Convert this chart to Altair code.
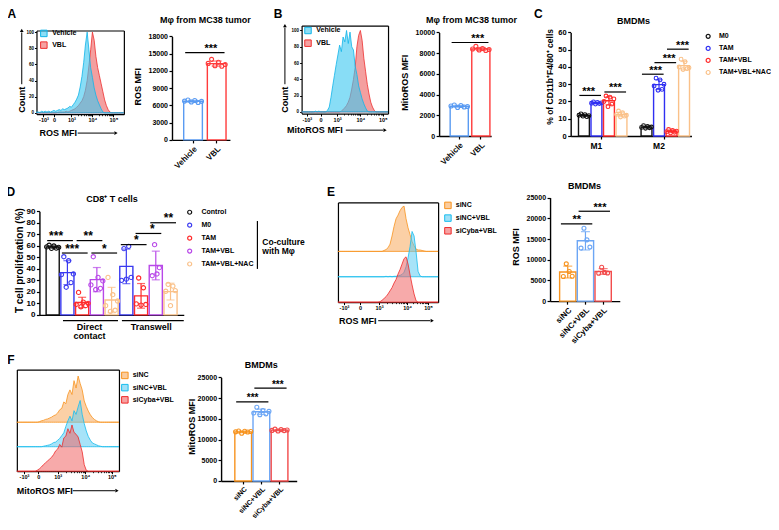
import math
import altair as alt
import pandas as pd

W, H = 763, 514


def TX(x):
    return round((x - 1) * W / 777, 2)


def TY(y):
    return round((y - 2) * H / 526, 2)


FONT = "Liberation Sans"
K = "#000000"

# ============================ data ============================
HIST_X = list(range(0, 101, 2))
HIST_TICK_TEXT = ["-10³", "0", "10³", "10⁴", "10⁵"]

A_HIST_VEHICLE = [1, 1, 0.5, 2, 1, 2, 1, 2, 1, 2,
                  3, 2, 3, 4, 3, 5, 4, 5, 6, 8,
                  7, 10, 13, 17, 22, 32, 45, 62, 84, 100,
                  78, 56, 44, 31, 22, 15, 10, 5, 1, 0,
                  0, 0, 0, 0, 0, 0, 0, 0, 0, 0, 0]
A_HIST_VBL = [0, 0, 0, 0, 0, 0, 0, 0, 0, 0,
              0, 0, 0.5, 1, 1, 1, 1, 2, 1, 2,
              3, 4, 5, 7, 9, 12, 15, 20, 28, 40,
              58, 78, 100, 90, 70, 56, 46, 36, 26, 16,
              9, 4, 1, 0, 0, 0, 0, 0, 0, 0, 0]
B_HIST_VEHICLE = [0, 0, 0, 0, 0, 0, 0, 0, 1, 0,
                  1, 0, 0, 0, 0, 2, 6, 18, 32, 45,
                  58, 70, 82, 74, 92, 86, 100, 84, 98, 80,
                  76, 56, 46, 32, 24, 16, 10, 5, 1, 0,
                  0, 0, 0, 0, 0, 0, 0, 0, 0, 0, 0]
B_HIST_VBL = [0, 0, 0, 0, 0, 0, 0, 0, 0, 0,
              0, 0, 0, 0, 0, 0, 0, 0, 0, 0,
              0, 0, 0, 1, 3, 5, 8, 12, 18, 28,
              40, 55, 80, 94, 100, 88, 66, 50, 34, 22,
              12, 6, 2, 0, 0, 0, 0, 0, 0, 0, 0]
E_HIST_SINC = [0, 0, 0, 0, 0, 0, 0, 0, 0, 0,
               0, 0, 0, 0, 0, 0, 0, 0, 0, 0,
               0, 0, 0, 2, 4, 8, 16, 34, 55, 72,
               80, 90, 97, 100, 72, 52, 37, 22, 12, 5,
               3, 3, 2, 1, 0, 0, 0, 0, 0, 0, 0]
E_HIST_SINC_VBL = [0, 0, 0, 0, 0, 0, 0, 0, 0, 0,
                   0, 0, 0, 0, 0, 0, 0, 0, 0, 0,
                   0, 0, 0, 0, 1, 0, 1, 0, 1, 1,
                   2, 3, 5, 10, 22, 42, 67, 100, 90, 55,
                   12, 2, 0, 0, 0, 0, 0, 0, 0, 0, 0]
E_HIST_SICYBA_VBL = [0, 0, 0, 0, 0, 0, 0, 0, 0, 0,
                     0, 0, 0, 0, 0, 0, 0, 0, 0, 0,
                     0, 1, 4, 8, 12, 18, 25, 32, 42, 50,
                     62, 72, 84, 96, 100, 84, 60, 38, 18, 3,
                     0, 0, 0, 0, 0, 0, 0, 0, 0, 0, 0]
F_HIST_SINC = [0, 0, 0, 0, 0, 0, 0, 0, 0, 0,
               0, 1, 3, 4, 6, 7, 9, 11, 14, 16,
               20, 27, 30, 44, 40, 60, 70, 60, 90, 74,
               100, 84, 70, 46, 34, 24, 16, 10, 6, 3,
               1, 0, 0, 0, 0, 0, 0, 0, 0, 0, 0]
F_HIST_SINC_VBL = [0, 0, 0, 0, 0, 0, 0, 0, 0, 0,
                   0, 0, 0, 1, 2, 3, 4, 6, 9, 10,
                   14, 18, 24, 30, 44, 56, 66, 56, 78, 70,
                   86, 100, 70, 50, 34, 22, 14, 8, 6, 4,
                   2, 1, 0, 0, 0, 0, 0, 0, 0, 0, 0]
F_HIST_SICYBA_VBL = [0, 0, 0, 0, 0, 0, 0, 0, 0, 0,
                     2, 5, 9, 14, 18, 22, 26, 30, 36, 44,
                     48, 58, 52, 72, 76, 92, 82, 100, 84, 80,
                     74, 58, 42, 14, 2, 0, 0, 0, 0, 0,
                     0, 0, 0, 0, 0, 0, 0, 0, 0, 0, 0]

AB_GROUPS = ["Vehicle", "VBL"]
A_ROS_VEHICLE = [6750, 6950, 6600, 6850, 6500, 6700]
A_ROS_VBL = [13300, 14000, 12900, 13500, 12800, 13100]
B_MITO_VEHICLE = [2900, 3000, 2750, 2950, 2800, 2850]
B_MITO_VBL = [8400, 8650, 8300, 8450, 8250, 8350]

C_TREATMENTS = ["M0", "TAM", "TAM+VBL", "TAM+VBL+NAC"]
C_M1_M0 = [12.0, 12.8, 11.5, 12.4, 11.2, 11.8]
C_M1_TAM = [19.0, 19.8, 18.5, 19.5, 18.8, 19.2]
C_M1_TAMVBL = [20.0, 23.2, 17.0, 22.5, 18.5, 21.5]
C_M1_NAC = [12.5, 14.5, 11.0, 13.5, 11.5, 12.0]
C_M2_M0 = [5.0, 6.0, 4.5, 5.5, 4.8, 5.2]
C_M2_TAM = [29.0, 33.5, 26.5, 32.5, 27.0, 30.0]
C_M2_TAMVBL = [2.5, 3.8, 1.8, 3.2, 2.2, 2.8]
C_M2_NAC = [40.0, 44.5, 38.5, 43.0, 39.0, 39.5]

D_GROUPS = ["Control", "M0", "TAM", "TAM+VBL", "TAM+VBL+NAC"]
D_CONTROL = [59.0, 60.5, 57.8, 59.8, 58.0, 58.6]
D_DIRECT_M0 = [35.0, 50.5, 24.0, 47.0, 28.0, 35.5]
D_DIRECT_TAM = [9.0, 19.5, 7.0, 11.0, 8.0, 10.0]
D_DIRECT_TAMVBL = [26.0, 50.5, 22.0, 32.5, 23.0, 29.5]
D_DIRECT_NAC = [8.0, 32.5, 3.0, 17.5, 4.0, 12.0]
D_TRANS_M0 = [30.0, 57.5, 31.0, 59.5, 32.5]
D_TRANS_TAM = [9.5, 32.0, 8.5, 23.5, 9.0]
D_TRANS_TAMVBL = [34.0, 61.0, 35.5, 41.0]
D_TRANS_NAC = [20.5, 26.5, 8.0, 25.0, 21.0]

EF_GROUPS = ["siNC", "siNC+VBL", "siCyba+VBL"]
E_ROS_SINC = [5950, 9000, 7150, 6000]
E_ROS_SINC_VBL = [12800, 17600, 14800, 13050]
E_ROS_SICYBA_VBL = [6750, 8200, 6950, 6800]
F_MITO_SINC = [11850, 12050, 11500, 12000, 11800, 11950]
F_MITO_SINC_VBL = [16400, 17800, 16000, 17000, 16200, 16800]
F_MITO_SICYBA_VBL = [12200, 12500, 12050, 12400, 12150, 12300]

# significance brackets: (left bar, right bar, height, label)
A_SIG = [("Vehicle", "VBL", 15160, "***")]
B_SIG = [("Vehicle", "VBL", 9030, "***")]
C_SIG = [("M1|M0", "M1|TAM", 23.5, "***"), ("M1|TAM+VBL", "M1|TAM+VBL+NAC", 25.5, "***"),
         ("M2|M0", "M2|TAM", 35.8, "***"), ("M2|TAM", "M2|TAM+VBL", 42.5, "***"),
         ("M2|TAM+VBL", "M2|TAM+VBL+NAC", 50.3, "***")]
D_SIG = [("Control", "D|M0", 64.5, "***"), ("D|M0", "D|TAM", 53.7, "***"),
         ("D|TAM", "D|TAM+VBL", 64.5, "**"), ("D|TAM+VBL", "D|TAM+VBL+NAC", 53.7, "*"),
         ("T|M0", "T|TAM", 61.0, "*"), ("T|TAM", "T|TAM+VBL", 70.7, "*"),
         ("T|TAM+VBL", "T|TAM+VBL+NAC", 80.0, "**")]
E_SIG = [("siNC", "siNC+VBL", 18630, "**"), ("siNC+VBL", "siCyba+VBL", 21700, "***")]
F_SIG = [("siNC", "siNC+VBL", 19100, "***"), ("siNC+VBL", "siCyba+VBL", 22400, "***")]

# colours
AB_BAR_COL = ["#5A9BF2", "#FF3B3B"]
AB_HIST_FILL = ["#3FC8F0", "#EE6464"]
AB_HIST_STROKE = ["#10B4E8", "#EE3030"]
C_COL = ["#111111", "#2F2FF2", "#FF2A2A", "#FAC189"]
D_COL = ["#111111", "#3A3AF0", "#FF2A2A", "#B848E8", "#FAC189"]
EF_BAR_COL = ["#F7931E", "#6CA6F5", "#F24B4B"]
EF_HIST_FILL = ["#F8AA5C", "#5FCCF2", "#F06464"]
EF_HIST_STROKE = ["#F7931E", "#18BDEE", "#EE2A2A"]

K_DOMAIN = [str(i / 2) for i in range(0, 11)]


# ============================ helpers ============================
def bar_df(items):
    rows = []
    for slot, grp, vals in items:
        n = len(vals)
        for i, v in enumerate(vals):
            rows.append({"slot": slot, "grp": grp, "v": v, "k": str(i + (6 - n) / 2)})
    return pd.DataFrame(rows)


def hist_df(names, series, offsets):
    rows = []
    for name, vals, off in zip(names, series, offsets):
        assert len(vals) == len(HIST_X)
        for x, v in zip(HIST_X, vals):
            rows.append({"x": x, "s": name, "top": v + off, "base": off})
    return pd.DataFrame(rows)


def y_axis(ax_x, ticks, title, txy, lab=7.0, tsize=9.0):
    return alt.Axis(orient="left", offset=-TX(ax_x), values=ticks, format="d",
                    labelFontSize=lab, labelFontWeight="bold", labelFont=FONT, labelPadding=1.5,
                    labelColor=K, tickSize=3, tickWidth=1.2, tickColor=K,
                    domainWidth=1.4, domainColor=K, title=title, titleFont=FONT,
                    titleFontSize=tsize, titleFontWeight="bold", titleColor=K,
                    titleX=TX(txy[0]) - TX(ax_x), titleY=TY(txy[1]), titleAngle=270,
                    titleAlign="center", titleBaseline="middle", grid=False,
                    labelFlush=False, labelOverlap=False)


def x_axis(ax_y, **kw):
    base = dict(orient="bottom", offset=TY(ax_y) - H, title=None, domainWidth=1.4,
                domainColor=K, tickColor=K, tickSize=3, tickWidth=1.2, labelFont=FONT,
                labelFontWeight="bold", labelFontSize=8, labelColor=K, labelPadding=2,
                labelOverlap=False, labelFlush=False, grid=False)
    base.update(kw)
    return alt.Axis(**base)


def bar_layers(df, slots, groups, colors, xr, pi, po, al, yr, ydom, xaxis, yaxis,
               sig, cap, star_size=11, pt_size=16):
    xs = alt.Scale(domain=slots, range=[TX(xr[0]), TX(xr[1])], paddingInner=pi,
                   paddingOuter=po, align=al)
    ys = alt.Scale(domain=ydom, range=[TY(yr[0]), TY(yr[1])], nice=False, zero=False)
    cs = alt.Scale(domain=groups, range=colors)
    step = (TX(xr[1]) - TX(xr[0])) / (len(slots) - pi + 2 * po)
    bars = alt.Chart(df).mark_bar(fill="white", strokeWidth=1.4).encode(
        x=alt.X("slot:N", scale=xs, axis=xaxis),
        y=alt.Y("mean(v):Q", scale=ys, axis=yaxis),
        stroke=alt.Stroke("grp:N", scale=cs, legend=None),
    )
    err = alt.Chart(df).mark_errorbar(extent="stdev", ticks={"size": cap}, thickness=1.2).encode(
        x=alt.X("slot:N", scale=xs, axis=None),
        y=alt.Y("v:Q", scale=ys, axis=None, title=None),
        color=alt.Color("grp:N", scale=cs, legend=None),
    )
    pts = alt.Chart(df).mark_point(filled=False, size=pt_size, strokeWidth=1.1, opacity=1).encode(
        x=alt.X("slot:N", scale=xs, axis=None),
        xOffset=alt.XOffset("k:N", scale=alt.Scale(domain=K_DOMAIN, paddingOuter=0.5)),
        y=alt.Y("v:Q", scale=ys, axis=None),
        color=alt.Color("grp:N", scale=cs, legend=None),
    )
    sdf = pd.DataFrame(sig, columns=["a", "b", "y", "t"])
    rule = alt.Chart(sdf).mark_rule(color=K, strokeWidth=1.2).encode(
        x=alt.X("a:N", scale=xs, bandPosition=0.08, axis=None),
        x2=alt.X2("b", bandPosition=0.92),
        y=alt.Y("y:Q", scale=ys, axis=None),
    )
    # stars centred on the gap between the two compared bars
    star = alt.Chart(sdf).mark_text(font=FONT, fontSize=star_size, fontWeight="bold",
                                    baseline="alphabetic", dy=-0.5, dx=-step / 2,
                                    color=K).encode(
        x=alt.X("b:N", scale=xs, axis=None),
        y=alt.Y("y:Q", scale=ys, axis=None),
        text="t:N",
    )
    return [bars, err, pts, rule, star]


def minor_ticks(t):
    out = []
    for a, b in ((t[2], t[3]), (t[3], t[4])):
        for m in range(2, 10):
            out.append(round(a + (b - a) * math.log10(m), 2))
    return out


def hist_layers(df, names, fills, strokes, box, ydom, ticks, yticks, fop=0.6):
    left, right, top, bottom = box
    xs = alt.Scale(domain=[0, 100], range=[TX(left), TX(right)], nice=False, zero=False)
    ys = alt.Scale(domain=ydom, range=[TY(bottom), TY(top)], nice=False, zero=False)
    fs = alt.Scale(domain=names, range=fills)
    ss = alt.Scale(domain=names, range=strokes)
    expr = " : ".join(f"datum.value == {t} ? '{lab}'" for t, lab in zip(ticks, HIST_TICK_TEXT)) + " : ''"
    xaxis = alt.Axis(orient="bottom", offset=TY(bottom) - H, values=ticks, labelExpr=expr,
                     title=None, tickSize=2.5, tickWidth=1, tickColor=K, domainWidth=1.2,
                     domainColor=K, labelFontSize=5.5, labelFontWeight="bold", labelFont=FONT,
                     labelColor=K, labelPadding=1, labelFlush=False, labelOverlap=False, grid=False)
    if yticks:
        yaxis = alt.Axis(orient="left", offset=-TX(left), values=yticks, title=None, tickSize=2,
                         tickColor=K, labelFontSize=4.5, labelFontWeight="bold", labelFont=FONT,
                         labelColor=K, labelPadding=1, domainWidth=1.2, domainColor=K,
                         grid=False, labelFlush=False, labelOverlap=False)
    else:
        yaxis = alt.Axis(orient="left", offset=-TX(left), labels=False, ticks=False, title=None,
                         domainWidth=1.2, domainColor=K, grid=False)
    area = alt.Chart(df).mark_area(fillOpacity=fop, strokeWidth=0.8).encode(
        x=alt.X("x:Q", scale=xs, axis=xaxis),
        y=alt.Y("top:Q", scale=ys, axis=yaxis, stack=None),
        y2="base:Q",
        fill=alt.Fill("s:N", scale=fs, legend=None),
        stroke=alt.Stroke("s:N", scale=ss, legend=None),
    )
    frame = alt.Chart(df).mark_point(opacity=0).encode(
        x=alt.X("x:Q", scale=xs, axis=alt.Axis(orient="top", offset=-TY(top), labels=False,
                                                ticks=False, title=None, domainWidth=1.2,
                                                domainColor=K, grid=False)),
        y=alt.Y("top:Q", scale=ys, axis=alt.Axis(orient="right", offset=TX(right) - W,
                                                  labels=False, ticks=False, title=None,
                                                  domainWidth=1.2, domainColor=K, grid=False)),
    )
    minor = alt.Chart(df).mark_point(opacity=0).encode(
        x=alt.X("x:Q", scale=xs, axis=alt.Axis(orient="bottom", offset=TY(bottom) - H,
                                                values=minor_ticks(ticks), labels=False,
                                                domain=False, tickSize=1.5, tickWidth=0.8,
                                                tickColor=K, title=None, grid=False)),
        y=alt.Y("top:Q", scale=ys, axis=None),
    )
    return [area, frame, minor]


ONE = pd.DataFrame({"o": [0]})


def txt(text, x, y, size=9.0, align="center", angle=0, weight="bold", baseline="middle"):
    return alt.Chart(ONE).mark_text(text=text, font=FONT, fontSize=size, fontWeight=weight,
                                    align=align, baseline=baseline, angle=angle, color=K).encode(
        x=alt.value(TX(x)), y=alt.value(TY(y)))


def hline(x1, x2, y, w=1.2):
    return alt.Chart(ONE).mark_rule(color=K, strokeWidth=w).encode(
        x=alt.value(TX(x1)), x2=alt.value(TX(x2)), y=alt.value(TY(y)))


def vline(x, y1, y2, w=1.2):
    return alt.Chart(ONE).mark_rule(color=K, strokeWidth=w).encode(
        x=alt.value(TX(x)), y=alt.value(TY(y1)), y2=alt.value(TY(y2)))


def head(x, y, shape):
    return alt.Chart(ONE).mark_point(shape=shape, filled=True, size=14, color=K, opacity=1).encode(
        x=alt.value(TX(x)), y=alt.value(TY(y)))


def square_legend(names, fills, strokes, sx, y0, y1, lx, size=7.0):
    df = pd.DataFrame({"s": names})
    ysc = alt.Scale(type="point", domain=names, range=[TY(y0), TY(y1)], padding=0)
    sq = alt.Chart(df).mark_square(size=42, fillOpacity=0.6, strokeWidth=1).encode(
        x=alt.value(TX(sx)), y=alt.Y("s:N", scale=ysc, axis=None),
        fill=alt.Fill("s:N", scale=alt.Scale(domain=names, range=fills), legend=None),
        stroke=alt.Stroke("s:N", scale=alt.Scale(domain=names, range=strokes), legend=None))
    lab = alt.Chart(df).mark_text(align="left", baseline="middle", font=FONT, fontSize=size,
                                  fontWeight="bold", color=K).encode(
        x=alt.value(TX(lx)), y=alt.Y("s:N", scale=ysc, axis=None), text="s:N")
    return [sq, lab]


def dot_legend(names, colors, sx, y0, y1, lx, size=7.0):
    df = pd.DataFrame({"s": names})
    ysc = alt.Scale(type="point", domain=names, range=[TY(y0), TY(y1)], padding=0)
    dots = alt.Chart(df).mark_point(filled=False, size=16, strokeWidth=1.2, opacity=1).encode(
        x=alt.value(TX(sx)), y=alt.Y("s:N", scale=ysc, axis=None),
        color=alt.Color("s:N", scale=alt.Scale(domain=names, range=colors), legend=None))
    lab = alt.Chart(df).mark_text(align="left", baseline="middle", font=FONT, fontSize=size,
                                  fontWeight="bold", color=K).encode(
        x=alt.value(TX(lx)), y=alt.Y("s:N", scale=ysc, axis=None), text="s:N")
    return [dots, lab]


layers = []

# ---------------- Panel A ----------------
layers += hist_layers(hist_df(AB_GROUPS[::-1], [A_HIST_VBL, A_HIST_VEHICLE], [0, 0]),
                      AB_GROUPS, AB_HIST_FILL, AB_HIST_STROKE, (30, 119, 25, 110.7),
                      [-1.7, 102], [8, 20, 40, 64, 88], [0, 20, 40, 60, 80, 100], fop=0.62)
layers += square_legend(AB_GROUPS, AB_HIST_FILL, AB_HIST_STROKE, 37.5, 28, 40, 46)
layers += [txt("Count", 15, 96, angle=270), vline(15, 80, 27, 1), head(15, 25, "triangle-up"),
           txt("ROS MFI", 33, 130, align="left"), hline(72, 109, 130, 1),
           head(111, 130, "triangle-right")]
dfA = bar_df([("Vehicle", "Vehicle", A_ROS_VEHICLE), ("VBL", "VBL", A_ROS_VBL)])
layers += bar_layers(dfA, AB_GROUPS, AB_GROUPS, AB_BAR_COL, (168, 227), 0.21, 0.33, 0.75,
                     (137, 31), [0, 18000],
                     x_axis(137, labelAngle=315, labelAlign="right", labelBaseline="top"),
                     y_axis(168, list(range(0, 18001, 3000)), "ROS MFI", (133, 82)),
                     A_SIG, 10)
layers += [txt("Mφ from MC38 tumor", 202, 14), txt("A", 5, 8, size=12)]

# ---------------- Panel B ----------------
layers += hist_layers(hist_df(AB_GROUPS[::-1], [B_HIST_VBL, B_HIST_VEHICLE], [0, 0]),
                      AB_GROUPS, AB_HIST_FILL, AB_HIST_STROKE, (300, 388, 20, 110),
                      [-2, 106], [6, 22, 41, 68, 94], [0, 20, 40, 60, 80, 100], fop=0.62)
layers += square_legend(AB_GROUPS, AB_HIST_FILL, AB_HIST_STROKE, 306.5, 25, 38, 315)
layers += [txt("Count", 283, 96, angle=270), vline(283, 80, 22, 1), head(283, 20, "triangle-up"),
           txt("MitoROS MFI", 285, 127, align="left"), hline(345, 383, 127, 1),
           head(385, 127, "triangle-right")]
dfB = bar_df([("Vehicle", "Vehicle", B_MITO_VEHICLE), ("VBL", "VBL", B_MITO_VBL)])
layers += bar_layers(dfB, AB_GROUPS, AB_GROUPS, AB_BAR_COL, (440, 493), 0.16, 0.285, 0.9,
                     (133, 27), [0, 10000],
                     x_axis(133, labelAngle=315, labelAlign="right", labelBaseline="top"),
                     y_axis(440, list(range(0, 10001, 2000)), "MitoROS MFI", (405, 78)),
                     B_SIG, 10)
layers += [txt("Mφ from MC38 tumor", 473, 14), txt("B", 276, 8, size=12)]

# ---------------- Panel C ----------------
C_SLOTS = ["M1|" + t for t in C_TREATMENTS] + ["gap"] + ["M2|" + t for t in C_TREATMENTS]
dfC = bar_df([("M1|M0", "M0", C_M1_M0), ("M1|TAM", "TAM", C_M1_TAM),
              ("M1|TAM+VBL", "TAM+VBL", C_M1_TAMVBL), ("M1|TAM+VBL+NAC", "TAM+VBL+NAC", C_M1_NAC),
              ("M2|M0", "M0", C_M2_M0), ("M2|TAM", "TAM", C_M2_TAM),
              ("M2|TAM+VBL", "TAM+VBL", C_M2_TAMVBL), ("M2|TAM+VBL+NAC", "TAM+VBL+NAC", C_M2_NAC)])
layers += bar_layers(dfC, C_SLOTS, C_TREATMENTS, C_COL, (574, 697), 0.13, 0.39, 0.8,
                     (133, 27), [0, 60],
                     x_axis(133, values=["M1|TAM", "M2|TAM"], bandPosition=1,
                            labelExpr="substring(datum.value, 0, 2)", labelAngle=0,
                            labelAlign="center", labelBaseline="top",
                            labelFontSize=8.5, labelPadding=2),
                     y_axis(574, list(range(0, 61, 10)), "% of CD11b⁺F4/80⁺ cells", (552, 72),
                            lab=7.5, tsize=8.5),
                     C_SIG, 7, pt_size=14)
layers += dot_legend(C_TREATMENTS, C_COL, 714, 31, 68, 725)
layers += [txt("BMDMs", 638, 15), txt("C", 541, 8, size=12)]

# ---------------- Panel D ----------------
D_SLOTS = ["Control", "D|M0", "D|TAM", "D|TAM+VBL", "D|TAM+VBL+NAC",
           "T|M0", "T|TAM", "T|TAM+VBL", "T|TAM+VBL+NAC"]
dfD = bar_df([("Control", "Control", D_CONTROL), ("D|M0", "M0", D_DIRECT_M0),
              ("D|TAM", "TAM", D_DIRECT_TAM), ("D|TAM+VBL", "TAM+VBL", D_DIRECT_TAMVBL),
              ("D|TAM+VBL+NAC", "TAM+VBL+NAC", D_DIRECT_NAC), ("T|M0", "M0", D_TRANS_M0),
              ("T|TAM", "TAM", D_TRANS_TAM), ("T|TAM+VBL", "TAM+VBL", D_TRANS_TAMVBL),
              ("T|TAM+VBL+NAC", "TAM+VBL+NAC", D_TRANS_NAC)])
layers += bar_layers(dfD, D_SLOTS, D_GROUPS, D_COL, (33, 180), 0.11, 0.455, 0.5,
                     (316, 210), [0, 90],
                     x_axis(316, labels=False, ticks=False),
                     y_axis(33, list(range(0, 91, 10)), "T cell proliferation (%)", (13, 260),
                            lab=8, tsize=10),
                     D_SIG, 8, star_size=12, pt_size=18)
layers += dot_legend(D_GROUPS, D_COL, 186, 211, 264, 198, size=7)
layers += [hline(57, 113, 322), hline(117, 180, 322),
           txt("Direct", 84, 328, size=9), txt("contact", 84, 338, size=9),
           txt("Transwell", 147, 328, size=9),
           vline(255, 220, 269), txt("Co-culture", 260, 241, size=8.5, align="left"),
           txt("with Mφ", 260, 251, size=8.5, align="left"),
           txt("CD8⁺ T cells", 107, 197), txt("D", 4, 190, size=12)]

# ---------------- Panel E ----------------
layers += hist_layers(hist_df(EF_GROUPS, [E_HIST_SINC, E_HIST_SINC_VBL, E_HIST_SICYBA_VBL],
                              [112, 56, 0]),
                      EF_GROUPS, EF_HIST_FILL, EF_HIST_STROKE, (337, 439, 201, 303),
                      [0, 220], [6, 22, 41, 69, 90], None, fop=0.55)
layers += square_legend(EF_GROUPS, EF_HIST_FILL, EF_HIST_STROKE, 449, 204, 230, 457)
layers += [txt("ROS MFI", 338, 322, align="left"), hline(378, 431, 322, 1),
           head(433, 322, "triangle-right"), txt("E", 330, 190, size=12)]
dfE = bar_df([("siNC", "siNC", E_ROS_SINC), ("siNC+VBL", "siNC+VBL", E_ROS_SINC_VBL),
              ("siCyba+VBL", "siCyba+VBL", E_ROS_SICYBA_VBL)])
layers += bar_layers(dfE, EF_GROUPS, EF_GROUPS, EF_BAR_COL, (553, 624), 0.08, 0.51, 0.53,
                     (302, 196), [0, 25000],
                     x_axis(302, labelAngle=315, labelAlign="right", labelBaseline="top"),
                     y_axis(553, list(range(0, 25001, 5000)), "ROS MFI", (518, 246)),
                     E_SIG, 9)
layers += [txt("BMDMs", 588, 184)]

# ---------------- Panel F ----------------
layers += hist_layers(hist_df(EF_GROUPS, [F_HIST_SINC, F_HIST_SINC_VBL, F_HIST_SICYBA_VBL],
                              [106, 53, 0]),
                      EF_GROUPS, EF_HIST_FILL, EF_HIST_STROKE, (10, 114, 372, 476),
                      [0, 220], [7, 21, 40, 67, 93], None, fop=0.55)
layers += square_legend(EF_GROUPS, EF_HIST_FILL, EF_HIST_STROKE, 120, 378, 403, 128)
layers += [txt("MitoROS MFI", 10, 496, align="left"), hline(67, 110, 496, 1),
           head(112, 496, "triangle-right"), txt("F", 4, 362, size=12)]
dfF = bar_df([("siNC", "siNC", F_MITO_SINC), ("siNC+VBL", "siNC+VBL", F_MITO_SINC_VBL),
              ("siCyba+VBL", "siCyba+VBL", F_MITO_SICYBA_VBL)])
layers += bar_layers(dfF, EF_GROUPS, EF_GROUPS, EF_BAR_COL, (218, 295), 0.08, 0.62, 0.61,
                     (486, 380), [0, 25000],
                     x_axis(486, labelAngle=315, labelAlign="right", labelBaseline="top",
                            labelFontSize=7, labelPadding=1),
                     y_axis(218, list(range(0, 25001, 5000)), "MitoROS MFI", (188, 430)),
                     F_SIG, 9, star_size=10)
layers += [txt("BMDMs", 259, 367)]

chart = alt.layer(*layers).resolve_scale(
    x="independent", y="independent", color="independent", fill="independent",
    stroke="independent", xOffset="independent",
).resolve_axis(x="independent", y="independent").properties(
    width=W, height=H, padding=0, background="white",
    autosize=alt.AutoSizeParams(type="none"),
).configure_view(stroke=None).configure_axis(grid=False)

chart.save("out.html", embed_options={"renderer": "svg", "actions": False})
